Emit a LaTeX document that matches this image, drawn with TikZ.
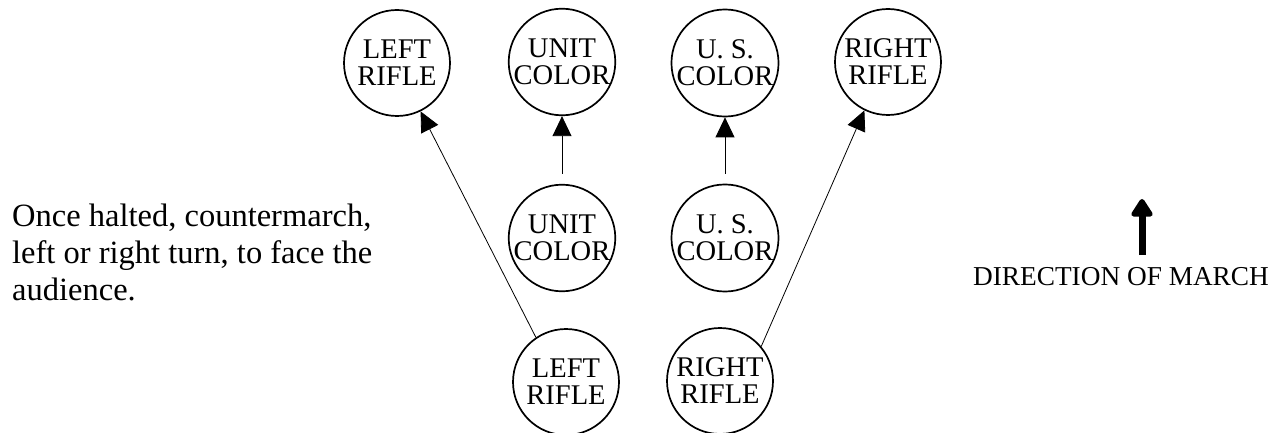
\documentclass[tikz,border=0pt]{standalone}
\usepackage{fontspec}
\setmainfont{Liberation Serif}
\usetikzlibrary{positioning,arrows.meta,calc}

\tikzset{
  marcher/.style={draw,circle,line width=1.7pt,minimum size=106pt,inner sep=0pt,
    align=center,font=\fontsize{28.5}{27}\selectfont},
  moveto/.style={-{Triangle[length=20pt 0,width=19pt 0]},line width=0.8pt}
}

\begin{document}
\begin{tikzpicture}[x=1pt,y=-1pt]
    \useasboundingbox (0,0) rectangle (1278,433);

    \draw (397,63)  node[marcher] (lr1) {LEFT\\RIFLE} ;
    \draw (562,62)  node[marcher] (uc1) {UNIT\\COLOR} ;
    \draw (725,63)  node[marcher] (us1) {U. S.\\COLOR} ;
    \draw (888,62)  node[marcher] (rr1) {RIGHT\\RIFLE} ;

    \draw (562,238) node[marcher] (uc2) {UNIT\\COLOR} ;
    \draw (725,238) node[marcher] (us2) {U. S.\\COLOR} ;

    \draw (566,382) node[marcher] (lr2) {LEFT\\RIFLE} ;
    \draw (720,381) node[marcher] (rr2) {RIGHT\\RIFLE} ;

    \draw[moveto] (lr2.124) -- (lr1.296);
    \draw[moveto,shorten <=10pt] (uc2) -- (uc1);
    \draw[moveto,shorten <=10pt] (us2) -- (us1);
    \draw[moveto] (rr2.40) -- (rr1.244);

    \draw (12,252) node[anchor=west,align=left,inner sep=0pt,
      font=\fontsize{32.5}{37}\selectfont] (note) {
        Once halted, countermarch,\\
        left or right turn, to face the\\
        audience.
    } ;

    \draw (1121,277) node[inner sep=0pt,font=\fontsize{27.3}{30}\selectfont] (dir) {DIRECTION OF MARCH} ;
    \coordinate (march) at (1142,199);
    \draw[-{Triangle[length=20pt 0,width=24pt 0,round]},line width=7pt] (1142,255) -- (march);
  \end{tikzpicture}
\end{document}
